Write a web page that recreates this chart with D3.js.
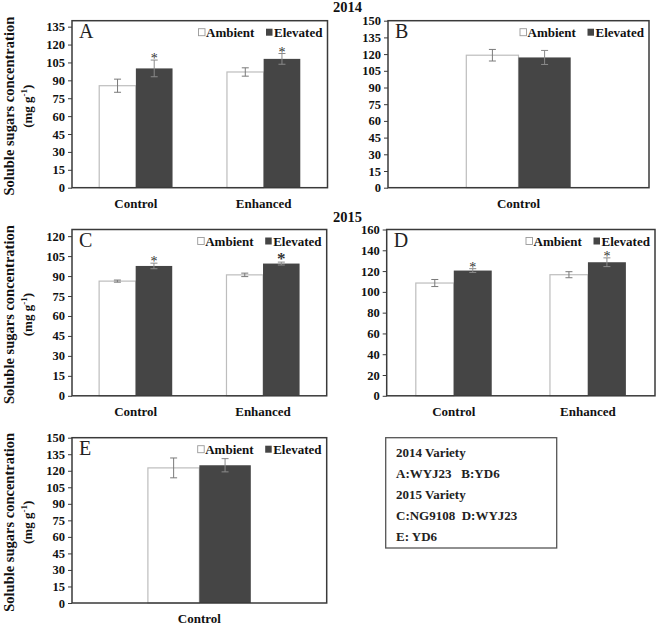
<!DOCTYPE html>
<html>
<head>
<meta charset="utf-8">
<script src="https://cdn.jsdelivr.net/npm/d3@7"></script>
<style>
  html, body { margin: 0; padding: 0; background: #fff; }
  svg text { font-family: "Times New Roman", "Liberation Serif", Tinos, Times, serif !important; }
</style>
</head>
<body>
<svg id="chart" width="656" height="626"></svg>
<script>
// ---------- DATA ----------
const seriesNames = ["Ambient", "Elevated"];

const categoriesA = ["Control", "Enhanced"];
const ambientA = [85.5, 97];
const elevatedA = [100, 108];
const ambientErrA = [5.5, 3.5];
const elevatedErrA = [7, 4.5];
const sigA = [true, true];
const ticksA = [0, 15, 30, 45, 60, 75, 90, 105, 120, 135];

const categoriesB = ["Control"];
const ambientB = [119];
const elevatedB = [117];
const ambientErrB = [5.2];
const elevatedErrB = [6.3];
const sigB = [false];
const ticksB = [0, 15, 30, 45, 60, 75, 90, 105, 120, 135, 150];

const categoriesC = ["Control", "Enhanced"];
const ambientC = [86.2, 90.9];
const elevatedC = [97.6, 99.4];
const ambientErrC = [0.8, 1.3];
const elevatedErrC = [2.1, 1.1];
const sigC = [true, true];
const ticksC = [0, 15, 30, 45, 60, 75, 90, 105, 120];

const categoriesD = ["Control", "Enhanced"];
const ambientD = [108.5, 116.5];
const elevatedD = [120.5, 128.5];
const ambientErrD = [3.4, 2.9];
const elevatedErrD = [1.8, 4.2];
const sigD = [true, true];
const ticksD = [0, 20, 40, 60, 80, 100, 120, 140, 160];

const categoriesE = ["Control"];
const ambientE = [122.6];
const elevatedE = [125];
const ambientErrE = [9];
const elevatedErrE = [6];
const sigE = [false];
const ticksE = [0, 15, 30, 45, 60, 75, 90, 105, 120, 135, 150];

const yearTitles = ["2014", "2015"];
const yAxisTitle = "Soluble sugars concentration";
const varietyLines = ["2014 Variety", "A:WYJ23   B:YD6", "2015 Variety", "C:NG9108  D:WYJ23", "E: YD6"];

// ---------- LAYOUT ----------
const panels = [
  { id: "A", cats: categoriesA, amb: ambientA, elv: elevatedA, ambE: ambientErrA, elvE: elevatedErrA, sig: sigA, ticks: ticksA, yMax: 140,
    x0: 72, x1: 327.5, y0: 20.7, y1: 187.7, barFrac: 0.287, yTitle: true, starBold: [false, false] },
  { id: "B", cats: categoriesB, amb: ambientB, elv: elevatedB, ambE: ambientErrB, elvE: elevatedErrB, sig: sigB, ticks: ticksB, yMax: 150,
    x0: 388, x1: 649, y0: 20.7, y1: 187.7, barFrac: 0.2, yTitle: false, starBold: [false] },
  { id: "C", cats: categoriesC, amb: ambientC, elv: elevatedC, ambE: ambientErrC, elvE: elevatedErrC, sig: sigC, ticks: ticksC, yMax: 125,
    x0: 72, x1: 326.7, y0: 229.5, y1: 395.8, barFrac: 0.287, yTitle: true, starBold: [false, true] },
  { id: "D", cats: categoriesD, amb: ambientD, elv: elevatedD, ambE: ambientErrD, elvE: elevatedErrD, sig: sigD, ticks: ticksD, yMax: 160,
    x0: 386.7, x1: 655, y0: 229.5, y1: 395.8, barFrac: 0.283, yTitle: false, starBold: [false, false] },
  { id: "E", cats: categoriesE, amb: ambientE, elv: elevatedE, ambE: ambientErrE, elvE: elevatedErrE, sig: sigE, ticks: ticksE, yMax: 150,
    x0: 72, x1: 326.7, y0: 437.7, y1: 603, barFrac: 0.202, yTitle: true, starBold: [false] }
];

const svg = d3.select("#chart");
const frameColor = "#3a3a3a";
const darkFill = "#454545";
const ambStroke = "#bdbdbd";
const errColor = "#7a7a7a";

// Year titles
svg.append("text").attr("x", 333).attr("y", 12).attr("font-size", 14.5).attr("font-weight", "bold").attr("fill", "#111").text(yearTitles[0]);
svg.append("text").attr("x", 333).attr("y", 221.5).attr("font-size", 14.5).attr("font-weight", "bold").attr("fill", "#111").text(yearTitles[1]);

panels.forEach(p => {
  const g = svg.append("g");
  const y = d3.scaleLinear().domain([0, p.yMax]).range([p.y1, p.y0]);
  const x = d3.scaleBand().domain(p.cats).range([p.x0, p.x1]).padding(0);
  const bw = x.bandwidth() * p.barFrac;

  // y axis
  const yAxis = d3.axisLeft(y).tickValues(p.ticks).tickSize(4).tickPadding(3).tickFormat(d3.format("d"));
  const ag = g.append("g").attr("transform", `translate(${p.x0},0)`).call(yAxis);
  ag.select(".domain").remove();
  ag.selectAll(".tick line").attr("stroke", frameColor).attr("stroke-width", 1);
  ag.selectAll(".tick text").attr("font-size", 12.5).attr("font-weight", "bold").attr("fill", "#111");

  // x axis labels
  const xAxis = d3.axisBottom(x).tickSize(0).tickPadding(11);
  const xg = g.append("g").attr("transform", `translate(0,${p.y1})`).call(xAxis);
  xg.select(".domain").remove();
  xg.selectAll(".tick text").attr("font-size", 13).attr("font-weight", "bold").attr("fill", "#111");

  // bars
  p.cats.forEach((c, i) => {
    const cx = x(c) + x.bandwidth() / 2;
    g.append("rect").attr("x", cx - bw).attr("y", y(p.amb[i])).attr("width", bw).attr("height", p.y1 - y(p.amb[i]))
      .attr("fill", "#fff").attr("stroke", ambStroke).attr("stroke-width", 1.2);
    g.append("rect").attr("x", cx).attr("y", y(p.elv[i])).attr("width", bw).attr("height", p.y1 - y(p.elv[i]))
      .attr("fill", darkFill);
    [[cx - bw / 2, p.amb[i], p.ambE[i], errColor], [cx + bw / 2, p.elv[i], p.elvE[i], "#8a8a8a"]].forEach(([ex, v, e, col]) => {
      const eg = g.append("g").attr("stroke", col).attr("stroke-width", 1);
      eg.append("line").attr("x1", ex).attr("x2", ex).attr("y1", y(v + e)).attr("y2", y(v - e));
      eg.append("line").attr("x1", ex - 3.5).attr("x2", ex + 3.5).attr("y1", y(v + e)).attr("y2", y(v + e));
      eg.append("line").attr("x1", ex - 3.5).attr("x2", ex + 3.5).attr("y1", y(v - e)).attr("y2", y(v - e));
    });
    if (p.sig[i]) {
      const bold = p.starBold[i];
      g.append("text").attr("x", cx + bw / 2).attr("y", y(p.elv[i] + p.elvE[i]) + (bold ? 2 : 3))
        .attr("text-anchor", "middle").attr("font-size", bold ? 17 : 14).attr("font-weight", bold ? "bold" : "normal")
        .attr("fill", "#333").text("*");
    }
  });

  // frame
  g.append("rect").attr("x", p.x0).attr("y", p.y0).attr("width", p.x1 - p.x0).attr("height", p.y1 - p.y0)
    .attr("fill", "none").attr("stroke", frameColor).attr("stroke-width", 1.5);

  // panel letter
  g.append("text").attr("x", p.x0 + 7).attr("y", p.y0 + 17.5).attr("font-size", 20).attr("fill", "#222").text(p.id);

  // legend
  const ly = p.y0 + 11.5;
  const s1 = p.x1 - 129, s2 = p.x1 - 61.5;
  g.append("rect").attr("x", s1).attr("y", ly - 3.5).attr("width", 6.5).attr("height", 7)
    .attr("fill", "#fff").attr("stroke", "#999").attr("stroke-width", 0.9);
  g.append("text").attr("x", s1 + 7.5).attr("y", ly + 4.5).attr("font-size", 13).attr("font-weight", "bold").attr("fill", "#111").text(seriesNames[0]);
  g.append("rect").attr("x", s2).attr("y", ly - 3.5).attr("width", 6.5).attr("height", 7).attr("fill", darkFill);
  g.append("text").attr("x", s2 + 8).attr("y", ly + 4.5).attr("font-size", 13).attr("font-weight", "bold").attr("fill", "#111").text(seriesNames[1]);

  // y-axis title
  if (p.yTitle) {
    const cy = (p.y0 + p.y1) / 2 + 2;
    g.append("text").attr("transform", `translate(14,${cy}) rotate(-90)`).attr("text-anchor", "middle")
      .attr("font-size", 14.5).attr("font-weight", "bold").attr("fill", "#111").text(yAxisTitle);
    const t = g.append("text").attr("transform", `translate(32,${cy}) rotate(-90)`).attr("text-anchor", "middle")
      .attr("font-size", 13).attr("font-weight", "bold").attr("fill", "#111");
    t.append("tspan").text("(mg g");
    t.append("tspan").attr("dy", -5).attr("font-size", 9).text("-1");
    t.append("tspan").attr("dy", 5).text(")");
  }
});

// Variety box
svg.append("rect").attr("x", 385.7).attr("y", 437.7).attr("width", 171).attr("height", 110.3)
  .attr("fill", "#fff").attr("stroke", "#555").attr("stroke-width", 1.3);
varietyLines.forEach((l, i) => {
  svg.append("text").attr("x", 396).attr("y", 457.3 + i * 20.9).attr("font-size", 13).attr("font-weight", "bold")
    .attr("fill", "#222").style("white-space", "pre").text(l);
});
</script>
</body>
</html>
